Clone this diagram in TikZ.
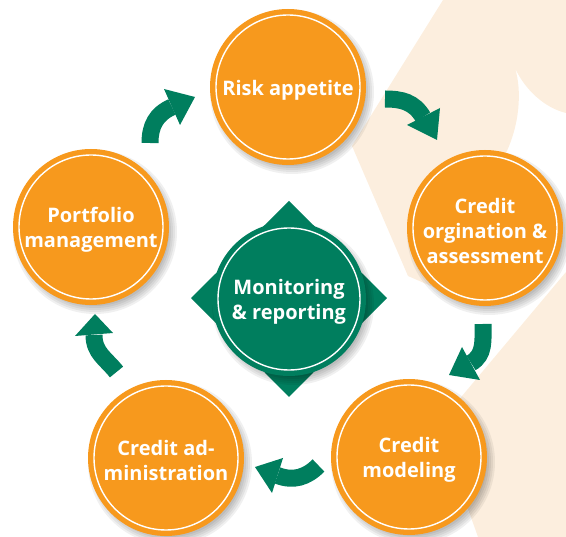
\documentclass[tikz,border=0pt]{standalone}
\usepackage{fontspec}
\setmainfont{Open Sans}
\usetikzlibrary{calc}
\definecolor{corange}{RGB}{247,153,29}
\definecolor{cgreen}{RGB}{0,126,94}
\definecolor{cbeige}{RGB}{252,238,222}
\newcommand\mysoftshadow[3]{%
  \foreach \dd in {-4,-2,0,2,4}{%
    \fill[black,opacity=0.06] (#1+4,#2+5) circle[radius=#3pt+\dd pt];
  }%
}
\begin{document}
\begin{tikzpicture}[x=1pt,y=-1pt,
  stage/.style={circle, fill=corange, minimum size=156pt, inner sep=0pt},
  hub/.style={circle, fill=cgreen, minimum size=154pt, inner sep=0pt},
  lbl/.style={text=white, font=\bfseries\fontsize{20}{25}\selectfont, align=center, inner sep=0pt, yshift=-3pt},
  ring/.style={draw=white, line width=1.4pt},
  shaft/.style={draw=cgreen, line width=17pt},
  head/.style={fill=cgreen}]
\useasboundingbox (0,0) rectangle (566,537);
% background
\fill[cbeige] (443,0) -- (566,0) -- (566,113) .. controls (545,108) and (525,90) .. (515,68)
  .. controls (522,90) and (520,125) .. (505,155) -- (480,230) -- (440,290) -- (408,276) -- (352,146) -- cycle;
\fill[cbeige] (566,272) -- (566,537) -- (478,537) -- (440,430) -- (462,396) -- cycle;
% shadows
\mysoftshadow{288}{87}{78}
\mysoftshadow{485}{228}{78}
\mysoftshadow{409}{457}{78}
\mysoftshadow{166}{458}{78}
\mysoftshadow{91}{227}{78}
% central diamond
\fill[cgreen] (289,201) -- (387,298) -- (289,397) -- (191,298) -- cycle;
\mysoftshadow{289}{299}{77}
\node[hub] (mon) at (289,299) {};
\draw[ring] (mon.center) circle[radius=71pt];
\node[lbl] (mon-t) at (mon.center) {Monitoring\\\& reporting};
% stages
\node[stage] (risk) at (288,87) {};
\node[stage] (orig) at (485,228) {};
\node[stage] (model) at (409,457) {};
\node[stage] (admin) at (166,458) {};
\node[stage] (port) at (91,227) {};
\foreach \n in {risk,orig,model,admin,port}{\draw[ring] (\n.center) circle[radius=72pt];}
\node[lbl] (risk-t) at (risk.center) {Risk appetite};
\node[lbl] (orig-t) at (orig.center) {Credit\\orgination \&\\assessment};
\node[lbl] (model-t) at (model.center) {Credit\\modeling};
\node[lbl] (admin-t) at (admin.center) {Credit ad-\\ministration};
\node[lbl] (port-t) at (port.center) {Portfolio\\management};
% arrows
\coordinate (a1t) at (150,143); \coordinate (a1b) at (172,107);
\draw[shaft] (a1t) .. controls (150,126) and (156,114) .. (a1b);
\fill[head] (164,89) -- (195,97) -- (180,125) -- cycle;
\coordinate (a2t) at (385,99); \coordinate (a2b) at (423,117);
\draw[shaft] (a2t) .. controls (402,99) and (414,102) .. (a2b);
\fill[head] (440,108) -- (437,140) -- (407,125) -- cycle;
\coordinate (a3t) at (483,324); \coordinate (a3b) at (471,363);
\draw[shaft] (a3t) .. controls (483,340) and (485,355) .. (a3b);
\fill[head] (462,347) -- (449,375) -- (480,380) -- cycle;
\coordinate (a4t) at (318.5,465.5); \coordinate (a4b) at (277.5,475.5);
\draw[shaft] (a4t) .. controls (306.5,477.5) and (293.4,481.5) .. (a4b);
\fill[head] (283,458) -- (255,467) -- (272,493) -- cycle;
\coordinate (a5t) at (116.5,372); \coordinate (a5b) at (94,335);
\draw[shaft] (a5t) .. controls (106,358.6) and (94,353) .. (a5b);
\fill[head] (75,336) -- (95,314) -- (113,333) -- cycle;
\end{tikzpicture}
\end{document}
